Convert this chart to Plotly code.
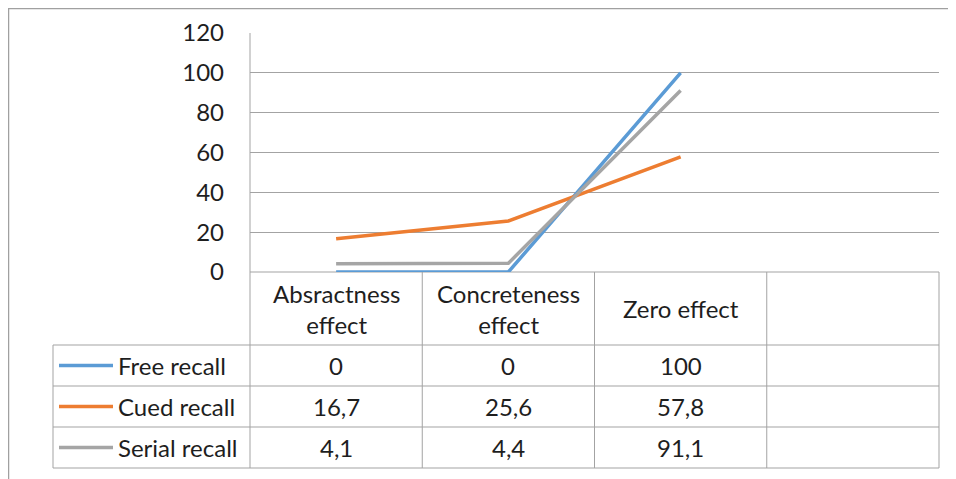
import plotly.graph_objects as go

categories = ["Absractness<br>effect", "Concreteness<br>effect", "Zero effect", ""]
series_names = ["Free recall", "Cued recall", "Serial recall"]
free_recall = [0, 0, 100]
cued_recall = [16.7, 25.6, 57.8]
serial_recall = [4.1, 4.4, 91.1]
series_values = [free_recall, cued_recall, serial_recall]
colors = ["#5B9BD5", "#ED7D31", "#A5A5A5"]
y_ticks = [0, 20, 40, 60, 80, 100, 120]

W, H = 956, 479
OX, OY = 8, 8  # page offset of the plot div
FONT = "Lato, Carlito, Calibri, sans-serif"
FS = 24
TXT = "#1E1E1E"
GRID = "#A3A3A3"

def px(x):
    return (x - OX) / W

def py(y):
    return 1 - (y - OY) / H

# layout geometry (target pixels)
plot_l, plot_r, plot_t, plot_b = 250, 939, 33, 272
tab_l = 53
row_lines = [345, 386, 427, 468]
col_w = (plot_r - plot_l) / len(categories)

fig = go.Figure()
for name, vals, c in zip(series_names, series_values, colors):
    fig.add_trace(go.Scatter(
        x=categories[:len(vals)], y=vals, mode="lines", name=name,
        line=dict(color=c, width=3.5), showlegend=False, hoverinfo="skip",
    ))

shapes = []
def line(x0, y0, x1, y1, color=GRID, width=1, layer="below"):
    shapes.append(dict(type="line", xref="paper", yref="paper", layer=layer,
                       x0=px(x0), y0=py(y0), x1=px(x1), y1=py(y1),
                       line=dict(color=color, width=width)))

# outer chart border (as close to the corner as the page allows)
line(OX, OY + 0.5, W + 20, OY + 0.5, color="#A0A0A0", width=1.5)
line(OX + 0.5, OY, OX + 0.5, H + 20, color="#A0A0A0", width=1.5)

# table grid
line(plot_l, plot_t, plot_l, row_lines[-1])
for i in range(1, len(categories) + 1):
    x = plot_l + i * col_w
    line(x, plot_b, x, row_lines[-1])
line(plot_l, plot_b, plot_r, plot_b)
for y in row_lines:
    line(tab_l, y, plot_r, y)
line(tab_l, row_lines[0], tab_l, row_lines[-1])

annotations = []
for i, cat in enumerate(categories):
    if not cat:
        continue
    annotations.append(dict(xref="paper", yref="paper",
                            x=px(plot_l + (i + 0.5) * col_w), y=py((plot_b + row_lines[0]) / 2),
                            text=cat, showarrow=False, xanchor="center", yanchor="middle",
                            font=dict(family=FONT, size=FS, color=TXT)))

def fmt(v):
    return ("%g" % v).replace(".", ",")

for r, (name, vals, c) in enumerate(zip(series_names, series_values, colors)):
    yc = (row_lines[r] + row_lines[r + 1]) / 2
    line(59, yc, 113, yc, color=c, width=3.5, layer="above")
    annotations.append(dict(xref="paper", yref="paper", x=px(116), y=py(yc),
                            text=name, showarrow=False, xanchor="left", yanchor="middle",
                            font=dict(family=FONT, size=FS, color=TXT)))
    for i, v in enumerate(vals):
        annotations.append(dict(xref="paper", yref="paper",
                                x=px(plot_l + (i + 0.5) * col_w), y=py(yc),
                                text=fmt(v), showarrow=False, xanchor="center", yanchor="middle",
                                font=dict(family=FONT, size=FS, color=TXT)))

fig.update_layout(
    width=W, height=H,
    margin=dict(l=0, r=0, t=0, b=0, autoexpand=False),
    paper_bgcolor="white", plot_bgcolor="white",
    shapes=shapes, annotations=annotations,
    xaxis=dict(domain=[px(plot_l), px(plot_r)], type="category",
               categoryorder="array", categoryarray=categories,
               range=[-0.5, len(categories) - 0.5], automargin=False,
               showgrid=False, showticklabels=False, zeroline=False, showline=False, fixedrange=True),
    yaxis=dict(domain=[py(plot_b), py(plot_t)], range=[0, 120], tickvals=y_ticks,
               automargin=False,
               showgrid=True, gridcolor=GRID, gridwidth=1, zeroline=False, showline=False,
               ticks="", ticklabelstandoff=25,
               tickfont=dict(family=FONT, size=FS, color=TXT), fixedrange=True),
)

fig.write_html("out.html")
